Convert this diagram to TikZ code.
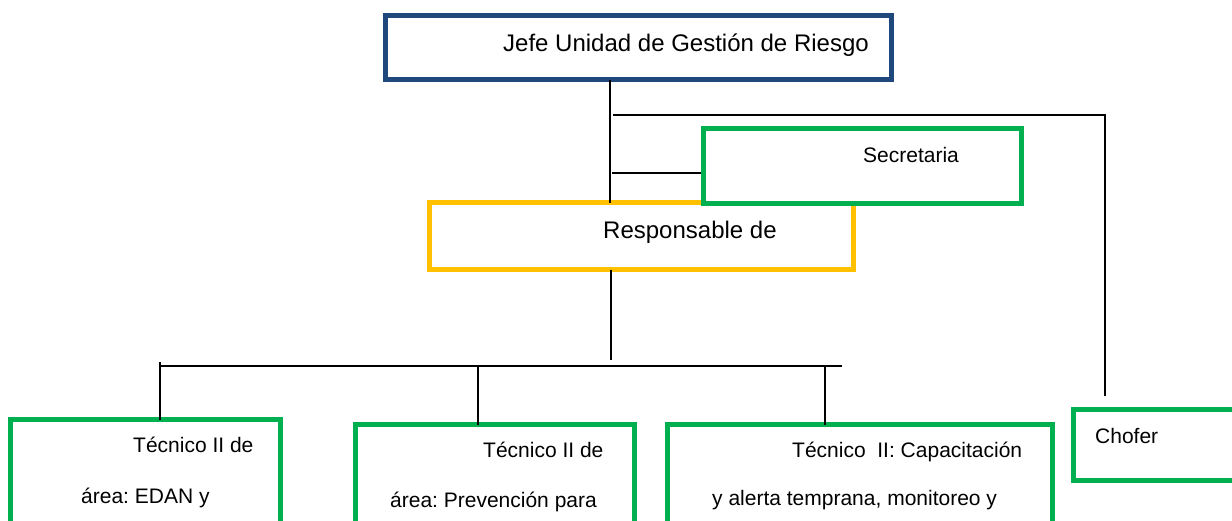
\documentclass[tikz,border=0pt]{standalone}
\usepackage{fontspec}
\setmainfont{Liberation Sans}
\frenchspacing
\definecolor{jefeblue}{HTML}{1F497D}
\definecolor{respyellow}{HTML}{FFC000}
\definecolor{boxgreen}{HTML}{00B050}
\begin{document}
\begin{tikzpicture}[x=1pt,y=-1pt,
  box/.style={draw=#1, line width=5pt, rectangle, inner sep=0pt, outer sep=0pt, fill=white},
  conn/.style={draw=black, line width=1.6pt},
  big/.style={anchor=base west, inner sep=0pt, font=\fontsize{24pt}{28pt}\selectfont\frenchspacing},
  small/.style={anchor=base west, inner sep=0pt, font=\fontsize{21pt}{25pt}\selectfont\frenchspacing}]
\useasboundingbox (0,0) rectangle (1232,520);
\clip (0,0) rectangle (1232,520);
\fill[white] (0,0) rectangle (1232,520);

% boxes
\node[box=jefeblue, minimum width=506pt, minimum height=64pt] (jefe) at (638.5,47.5) {};
\node[box=respyellow, minimum width=424pt, minimum height=67pt] (resp) at (641.5,236) {};
\node[box=boxgreen, minimum width=318pt, minimum height=75pt] (secr) at (862.5,166) {};
\node[box=boxgreen, minimum width=166.5pt, minimum height=71pt] (chofer) at (1156.75,445) {};
\node[box=boxgreen, minimum width=270pt, minimum height=105.5pt] (tec1) at (145.5,472.25) {};
\node[box=boxgreen, minimum width=279pt, minimum height=100.5pt] (tec2) at (495,474.75) {};
\node[box=boxgreen, minimum width=385pt, minimum height=100.5pt] (tec3) at (860,474.75) {};

% texts
\node[big] (tjefe) at (503,51) {Jefe Unidad de Gestión de Riesgo};
\node[big] (tresp) at (603,238) {Responsable de};
\node[small] (tsecr) at (863,162) {Secretaria};
\node[small] (tchofer) at (1095,443) {Chofer};
\node[small] (t1a) at (133,452) {Técnico II de};
\node[small] (t1b) at (81,503) {área: EDAN y};
\node[small] (t2a) at (483,457) {Técnico II de};
\node[small] (t2b) at (390,507) {área: Prevención para};
\node[small] (t3a) at (792,457) {Técnico\ \ II: Capacitación};
\node[small] (t3b) at (712,505) {y alerta temprana, monitoreo y};

% connector coordinates
\coordinate (xa) at (610,0);
\coordinate (sa) at (612,173);
\coordinate (ca) at (613,115);
\coordinate (cb) at (1105,115);
\coordinate (cc) at (1105,396);
\coordinate (xb) at (611,0);
\coordinate (ra) at (611,360);
\coordinate (ba) at (160,366);
\coordinate (bb) at (842,366);
\coordinate (d1) at (160,362);
\coordinate (d2) at (478,366);
\coordinate (d3) at (825,366);

% connectors
\draw[conn] (jefe.south -| xa) -- (resp.north -| xa);
\draw[conn] (sa) -- (secr.west |- sa);
\draw[conn] (ca) -- (cb) -- (cc);
\draw[conn] (resp.south -| xb) -- (ra);
\draw[conn] (ba) -- (bb);
\draw[conn] (d1) -- (tec1.north -| d1);
\draw[conn] (d2) -- (tec2.north -| d2);
\draw[conn] (d3) -- (tec3.north -| d3);

% redraw secretaria border on top of responsable
\draw[boxgreen, line width=5pt] (secr.north west) rectangle (secr.south east);
\end{tikzpicture}
\end{document}
